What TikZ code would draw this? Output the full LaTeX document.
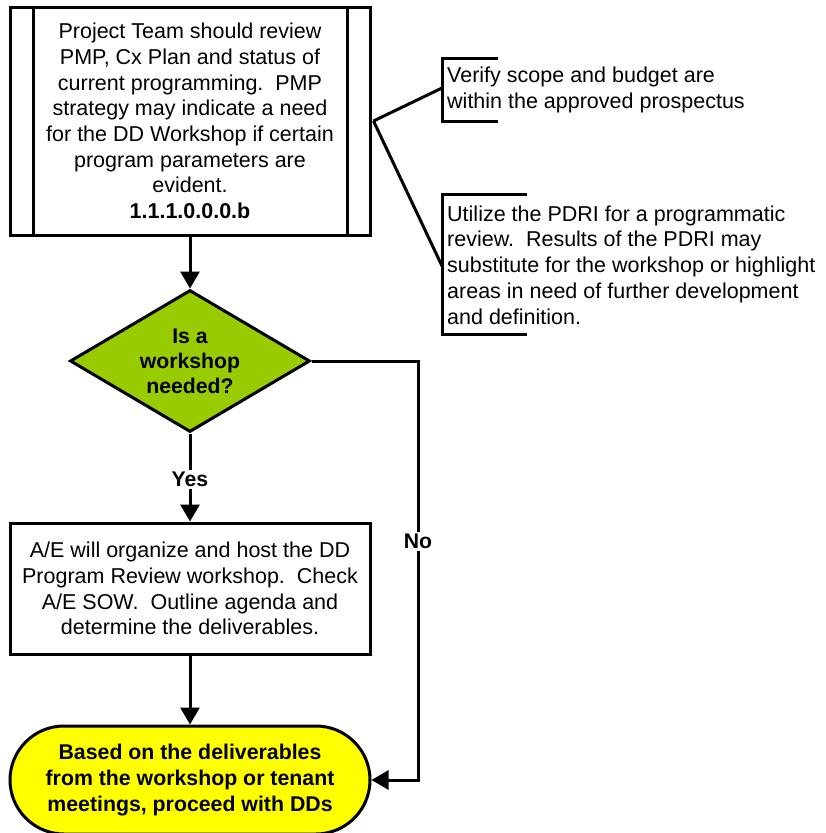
\documentclass[tikz,border=0pt]{standalone}
\usepackage{fontspec}
\setmainfont{Liberation Sans}
\usetikzlibrary{arrows.meta,shapes.geometric}
\definecolor{dgreen}{HTML}{99CC00}
\definecolor{tyellow}{HTML}{FFFF00}
\begin{document}
\begin{tikzpicture}[x=1pt,y=-1pt,
  txt/.style={font=\fontsize{21.5}{25.7}\selectfont},
  procbox/.style={draw,line width=3pt,txt,align=center,inner sep=0pt,minimum width=360pt},
  decision/.style={draw,line width=3pt,fill=dgreen,shape=diamond,aspect=1.69,inner sep=0pt,
    minimum width=240pt,minimum height=142pt,font=\fontsize{21.2}{25}\selectfont\bfseries,align=center},
  terminal/.style={draw,line width=3pt,fill=tyellow,rounded corners=54pt,minimum width=360pt,
    minimum height=108pt,inner sep=0pt,align=center,font=\fontsize{21.3}{25.7}\selectfont\bfseries},
  bracketbox/.style={inner sep=0pt,minimum width=56pt},
  note/.style={txt,align=left,anchor=west,inner sep=0pt},
  conn/.style={line width=3pt},
  arr/.style={conn,-{Triangle[length=17pt,width=19pt]}},
  lbl/.style={fill=white,inner sep=2pt,font=\fontsize{21.2}{25}\selectfont\bfseries}
]
\useasboundingbox (0,0) rectangle (825,833);

% top predefined process box
\node[procbox,minimum height=228pt] (top) at (190,121)
  {Project Team should review\\PMP, Cx Plan and status of\\current programming.\ \ PMP\\strategy may indicate a need\\for the DD Workshop if certain\\program parameters are\\evident.\\\textbf{1.1.1.0.0.0.b}};
\draw[line width=3pt] ([xshift=25pt]top.north west) -- ([xshift=25pt]top.south west);
\draw[line width=3pt] ([xshift=-24pt]top.north east) -- ([xshift=-24pt]top.south east);

% annotation brackets
\node[bracketbox,minimum height=62pt,anchor=west] (b1) at (442,90) {};
\draw[conn] (b1.north east) -- (b1.north west) -- (b1.south west) -- (b1.south east);
\node[note] (n1) at (447,90) {Verify scope and budget are\\within the approved prospectus};

\node[bracketbox,minimum height=139pt,minimum width=85pt,anchor=west] (b2) at (442,264.5) {};
\draw[conn] (b2.north east) -- (b2.north west) -- (b2.south west) -- (b2.south east);
\node[note] (n2) at (447,265) {Utilize the PDRI for a programmatic\\review.\ \ Results of the PDRI may\\substitute for the workshop or highlight\\areas in need of further development\\and definition.};

\coordinate (j) at ([xshift=2pt]top.east);
\draw[conn] (j) -- ([yshift=2pt]b1.west);
\draw[conn] (j) -- ([yshift=-1.5pt]b2.west);

% decision
\node[decision] (dec) at (190,361) {Is a\\workshop\\needed?};
\draw[arr] (top.south) -- (dec.north);

% process box 2
\node[procbox,minimum height=131pt] (ae) at (190,588.5)
  {A/E will organize and host the DD\\Program Review workshop.\ \ Check\\A/E SOW.\ \ Outline agenda and\\determine the deliverables.};
\draw[arr] (dec.south) -- node[lbl,pos=0.52] (yes) {Yes} (ae.north);

% terminal
\node[terminal] (term) at (190,780)
  {Based on the deliverables\\from the workshop or tenant\\meetings, proceed with DDs};
\draw[arr] (ae.south) -- (term.north);

% No branch
\coordinate (c1) at (418,361);
\coordinate (c2) at (418,780);
\draw[arr] (dec.east) -- (c1) -- node[lbl,pos=0.43] (no) {No} (c2) -- (term.east);
\end{tikzpicture}
\end{document}
